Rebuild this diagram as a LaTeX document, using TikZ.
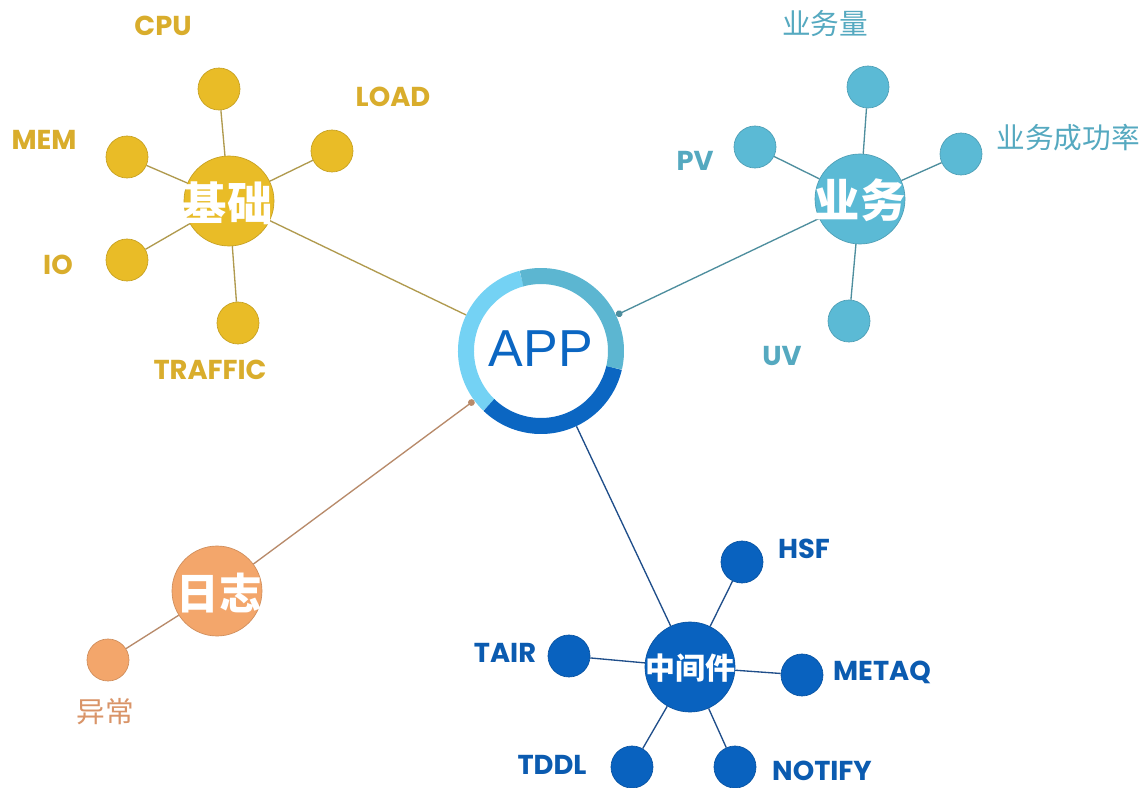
\documentclass[tikz,border=0pt]{standalone}
\usepackage{fontspec}
\setmainfont{Liberation Sans}
\newfontfamily\cjk{Noto Sans CJK SC}
\newfontfamily\pop{Poppins}
\usetikzlibrary{arrows.meta}
\definecolor{gold}{HTML}{E9BC27}
\definecolor{goldtxt}{HTML}{D9AD2C}
\definecolor{goldln}{HTML}{B09A4E}
\definecolor{teal}{HTML}{5BBAD5}
\definecolor{tealtxt}{HTML}{55A9C0}
\definecolor{tealln}{HTML}{4E8E9E}
\definecolor{orng}{HTML}{F3A66B}
\definecolor{orngtxt}{HTML}{D99468}
\definecolor{orngln}{HTML}{B88A6A}
\definecolor{blu}{HTML}{0962BF}
\definecolor{blutxt}{HTML}{0B5BB0}
\definecolor{bluln}{HTML}{1F4E8A}
\definecolor{ringlight}{HTML}{74D2F4}
\definecolor{ringteal}{HTML}{5CB6D1}
\definecolor{ringdark}{HTML}{0B66C2}
\tikzset{
  hub/.style={circle, minimum size=90*0.75pt, inner sep=0pt, fill=#1, draw=#1!85!black, line width=0.5pt},
  sat/.style={circle, minimum size=42*0.75pt, inner sep=0pt, fill=#1, draw=#1!85!black, line width=0.5pt},
  hubtxt/.style={text=white, font=\cjk\bfseries\fontsize{34}{34}\selectfont, inner sep=0pt},
  lbl/.style={text=#1, font=\pop\bfseries\fontsize{20.5}{20.5}\selectfont, inner sep=0pt},
  cnlbl/.style={text=#1, font=\cjk\fontsize{21.5}{21.5}\selectfont, inner sep=0pt},
  conn/.style={draw=#1, line width=1pt},
}
\begin{document}
\begin{tikzpicture}[x=0.75pt,y=0.75pt]
\useasboundingbox[fill=white] (0,0) rectangle (1146,-788);
% APP ring
\node[circle, minimum size=166*0.75pt, inner sep=0pt] (app) at (541,-351) {};
\draw[line width=16*0.75pt, ringlight] (541,-351) ++(105:75) arc[start angle=105, end angle=226, radius=75];
\draw[line width=16*0.75pt, ringdark] (541,-351) ++(226:75) arc[start angle=226, end angle=347, radius=75];
\draw[line width=16*0.75pt, ringteal] (541,-351) ++(-13:75) arc[start angle=-13, end angle=105, radius=75];
\node[text=ringdark, font=\fontsize{39}{39}\selectfont, inner sep=0pt] (apptxt) at (541,-349) {APP};
% 基础
\node[hub=gold] (jc) at (229,-201) {};
\node[sat=gold] (cpu) at (219,-89) {};
\node[sat=gold] (load) at (332,-151) {};
\node[sat=gold] (mem) at (127,-157) {};
\node[sat=gold] (io) at (127,-260) {};
\node[sat=gold] (traffic) at (238,-323) {};
\foreach \s in {cpu,load,mem,io,traffic} \draw[conn=goldln] (jc) -- (\s);
\draw[conn=goldln] (jc) -- (app);
\node[hubtxt] (jct) at (227,-203) {基础};
\node[lbl=goldtxt] (cpul) at (163,-26) {CPU};
\node[lbl=goldtxt] (loadl) at (393,-97) {LOAD};
\node[lbl=goldtxt] (meml) at (44,-140) {MEM};
\node[lbl=goldtxt] (iol) at (58,-265) {IO};
\node[lbl=goldtxt] (trafficl) at (210,-370) {TRAFFIC};
% 业务
\node[hub=teal] (yw) at (860,-199) {};
\node[sat=teal] (ywl) at (868,-87) {};
\node[sat=teal] (cgl) at (961,-154) {};
\node[sat=teal] (pv) at (755,-147) {};
\node[sat=teal] (uv) at (849,-321) {};
\foreach \s in {ywl,cgl,pv,uv} \draw[conn=tealln] (yw) -- (\s);
\draw[conn=tealln, -{Circle[length=5pt]}] (yw) -- (app);
\node[hubtxt] (ywt) at (860,-200) {业务};
\node[cnlbl=tealtxt] (ywll) at (825,-24) {业务量};
\node[cnlbl=tealtxt] (cgll) at (1068,-138) {业务成功率};
\node[lbl=tealtxt] (pvl) at (695,-161) {PV};
\node[lbl=tealtxt] (uvl) at (782,-356) {UV};
% 日志
\node[hub=orng] (rz) at (217,-591) {};
\node[sat=orng] (yc) at (108,-660) {};
\draw[conn=orngln] (rz) -- (yc);
\draw[conn=orngln, -{Circle[length=5pt]}] (rz) -- (app);
\node[hubtxt, font=\cjk\bfseries\fontsize{32}{32}\selectfont] (rzt) at (219,-593) {日志};
\node[cnlbl=orngtxt] (ycl) at (105,-712) {异常};
% 中间件
\node[hub=blu] (zjj) at (690,-667) {};
\node[sat=blu] (hsf) at (742,-562) {};
\node[sat=blu] (tair) at (569,-656) {};
\node[sat=blu] (metaq) at (802,-675) {};
\node[sat=blu] (tddl) at (632,-767) {};
\node[sat=blu] (notify) at (735,-767) {};
\foreach \s in {hsf,tair,metaq,tddl,notify} \draw[conn=bluln] (zjj) -- (\s);
\draw[conn=bluln] (zjj) -- (app);
\node[hubtxt, font=\cjk\bfseries\fontsize{22.5}{22.5}\selectfont] (zjjt) at (690,-668) {中间件};
\node[lbl=blutxt] (hsfl) at (804,-549) {HSF};
\node[lbl=blutxt] (tairl) at (505,-653) {TAIR};
\node[lbl=blutxt] (metaql) at (882,-672) {METAQ};
\node[lbl=blutxt] (tddll) at (552,-765) {TDDL};
\node[lbl=blutxt] (notifyl) at (822,-771) {NOTIFY};
\end{tikzpicture}
\end{document}
